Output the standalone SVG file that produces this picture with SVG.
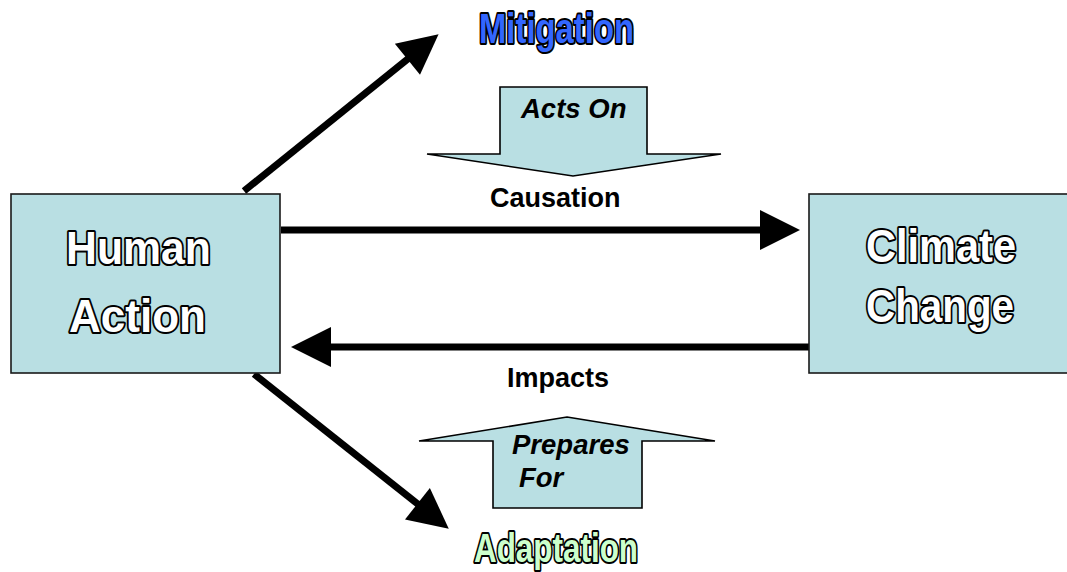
<svg xmlns="http://www.w3.org/2000/svg" width="1067" height="572" viewBox="0 0 1067 572">
<style>
.box{fill:#B9DFE3;stroke:#1a1a1a;stroke-width:1.6}
.block{fill:#B9DFE3;stroke:#000;stroke-width:1.6;stroke-linejoin:miter}
.out{font-family:"Liberation Sans",Arial,sans-serif;font-weight:bold;fill:#fff;stroke:#000;stroke-width:4;paint-order:stroke;stroke-linejoin:round;text-anchor:middle}
.lbl{font-family:"Liberation Sans",Arial,sans-serif;font-weight:bold;fill:#000;font-size:27px}
.ital{font-family:"Liberation Sans",Arial,sans-serif;font-weight:bold;font-style:italic;fill:#000;font-size:27.5px}
.conn{stroke:#000;stroke-width:7;fill:none;stroke-linecap:butt}
</style>
<defs>
<marker id="head" markerUnits="userSpaceOnUse" markerWidth="42" markerHeight="42" refX="2" refY="20" orient="auto" overflow="visible">
<path d="M0,0 L40,20 L0,40 Z" fill="#000"/>
</marker>
</defs>
<rect width="1067" height="572" fill="#fff"/>
<g id="connectors">
<line class="conn" x1="281" y1="230" x2="762" y2="230" marker-end="url(#head)"/>
<line class="conn" x1="809" y1="347" x2="329" y2="347" marker-end="url(#head)"/>
<line class="conn" x1="244" y1="191" x2="409" y2="58" marker-end="url(#head)"/>
<line class="conn" x1="254" y1="374" x2="419" y2="505" marker-end="url(#head)"/>
</g>
<g id="human-action">
<rect class="box" x="11" y="194" width="269" height="179"/>
<text class="out" x="138.5" y="264" font-size="47" textLength="145" lengthAdjust="spacingAndGlyphs">Human</text>
<text class="out" x="137.5" y="332" font-size="47" textLength="137" lengthAdjust="spacingAndGlyphs">Action</text>
</g>
<g id="climate-change">
<rect class="box" x="809" y="194" width="270" height="179"/>
<text class="out" x="941" y="262" font-size="47" textLength="150" lengthAdjust="spacingAndGlyphs">Climate</text>
<text class="out" x="940" y="322" font-size="47" textLength="148" lengthAdjust="spacingAndGlyphs">Change</text>
</g>
<g id="mitigation">
<text class="out" x="556.5" y="43" font-size="42" textLength="155" lengthAdjust="spacingAndGlyphs" style="fill:#3366FF">Mitigation</text>
</g>
<g id="adaptation">
<text class="out" x="556" y="562" font-size="41" textLength="164" lengthAdjust="spacingAndGlyphs" style="fill:#CCFFCC">Adaptation</text>
</g>
<g id="acts-on">
<path class="block" d="M500,87 L647,87 L647,154 L721,154 L573,176 L427,154 L500,154 Z"/>
<text class="ital" x="521" y="118">Acts On</text>
</g>
<g id="prepares-for">
<path class="block" d="M567,417 L715,441 L642,441 L642,508 L493,508 L493,441 L419,441 Z"/>
<text class="ital" x="512" y="454">Prepares</text>
<text class="ital" x="519" y="487">For</text>
</g>
<g id="labels">
<text class="lbl" x="490" y="207">Causation</text>
<text class="lbl" x="507" y="387">Impacts</text>
</g>
</svg>
